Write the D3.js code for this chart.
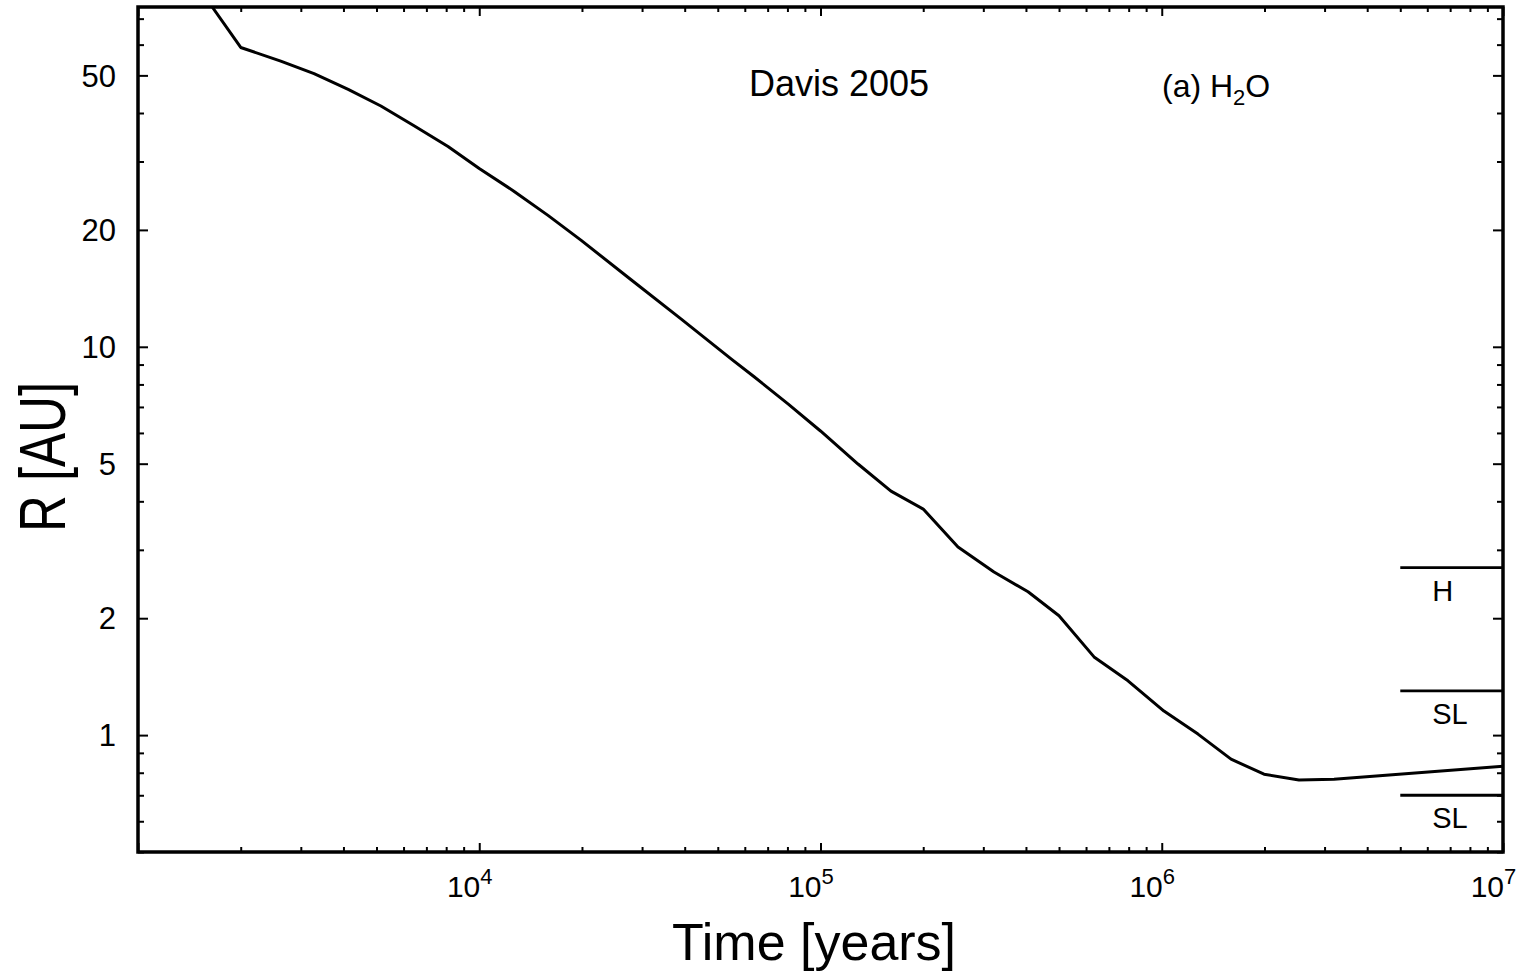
<!DOCTYPE html>
<html>
<head>
<meta charset="utf-8">
<script src="https://cdn.jsdelivr.net/npm/d3@7"></script>
<style>
  body { margin: 0; background: #fff; }
  svg { display: block; }
  text { font-family: "Liberation Sans", Arial, Helvetica, sans-serif; fill: #000; }
</style>
</head>
<body>
<svg id="chart" width="1532" height="973"></svg>
<script>
// ---- data ----
const timeYears = [1650, 2000, 2620, 3280, 4130, 5150, 6440, 8100, 10000, 12600, 15900, 19900,
  27800, 39000, 54700, 63900, 80300, 100000, 128800, 160900, 200000, 252900, 322400, 405700,
  500000, 633200, 796300, 1015000, 1277000, 1596000, 1994000, 2524000, 3197000, 10000000];
const radiusAU = [75, 59, 54.4, 50.5, 46.0, 41.7, 37.1, 32.8, 28.8, 25.2, 21.8, 18.8,
  14.9, 11.8, 9.31, 8.37, 7.13, 6.07, 4.99, 4.25, 3.82, 3.05, 2.63, 2.34,
  2.03, 1.59, 1.38, 1.153, 1.006, 0.867, 0.793, 0.766, 0.770, 0.832];

const refLabels = ["H", "SL", "SL"];
const refValues = [2.7, 1.3, 0.7];
const refStart = 5e6;
const refEnd = 1e7;

const xMajorTicks = [1e3, 1e4, 1e5, 1e6, 1e7];
const xTickLabels = [1e4, 1e5, 1e6, 1e7];
const xTickExponents = ["4", "5", "6", "7"];
const yMajorTicks = [1, 2, 5, 10, 20, 50];
const yTickLabels = ["1", "2", "5", "10", "20", "50"];
const mantissas = [1, 2, 3, 4, 5, 6, 7, 8, 9];

// ---- layout ----
const svg = d3.select("#chart");
const L = 138, R = 1503, T = 7, B = 852;
const x = d3.scaleLog().domain([1e3, 1e7]).range([L, R]);
const y = d3.scaleLog().domain([0.5, 75]).range([B, T]);

const xMinor = [];
[1e3, 1e4, 1e5, 1e6].forEach(d => mantissas.forEach(m => { if (m > 1) xMinor.push(d * m); }));
const yMinor = [];
[0.1, 1, 10].forEach(d => mantissas.forEach(m => {
  const v = +(d * m).toPrecision(3);
  if (v >= 0.5 && v <= 75 && !yMajorTicks.includes(v)) yMinor.push(v);
}));

function addAxis(gen, tr) {
  const g = svg.append("g").attr("transform", tr).call(gen);
  g.select(".domain").remove();
  g.selectAll("line").attr("stroke", "#000").attr("stroke-width", 2);
  g.selectAll("text").remove();
}
addAxis(d3.axisBottom(x).tickValues(xMajorTicks).tickSize(-9).tickFormat(""), `translate(0,${B})`);
addAxis(d3.axisBottom(x).tickValues(xMinor).tickSize(-5).tickFormat(""), `translate(0,${B})`);
addAxis(d3.axisTop(x).tickValues(xMajorTicks).tickSize(-9).tickFormat(""), `translate(0,${T})`);
addAxis(d3.axisTop(x).tickValues(xMinor).tickSize(-5).tickFormat(""), `translate(0,${T})`);
addAxis(d3.axisLeft(y).tickValues(yMajorTicks).tickSize(-10).tickFormat(""), `translate(${L},0)`);
addAxis(d3.axisLeft(y).tickValues(yMinor).tickSize(-6).tickFormat(""), `translate(${L},0)`);
addAxis(d3.axisRight(y).tickValues(yMajorTicks).tickSize(-10).tickFormat(""), `translate(${R},0)`);
addAxis(d3.axisRight(y).tickValues(yMinor).tickSize(-6).tickFormat(""), `translate(${R},0)`);

// frame
svg.append("rect").attr("x", L).attr("y", T).attr("width", R - L).attr("height", B - T)
  .attr("fill", "none").attr("stroke", "#000").attr("stroke-width", 3.5);

// clip
svg.append("clipPath").attr("id", "clip").append("rect")
  .attr("x", L).attr("y", T).attr("width", R - L).attr("height", B - T);

// curve
const line = d3.line().x(d => x(d[0])).y(d => y(d[1]));
svg.append("path")
  .datum(timeYears.map((t, i) => [t, radiusAU[i]]))
  .attr("d", line)
  .attr("clip-path", "url(#clip)")
  .attr("fill", "none").attr("stroke", "#000").attr("stroke-width", 3)
  .attr("stroke-linejoin", "round");

// reference lines
refValues.forEach((v, i) => {
  svg.append("line").attr("x1", x(refStart)).attr("x2", x(refEnd))
    .attr("y1", y(v)).attr("y2", y(v))
    .attr("stroke", "#000").attr("stroke-width", 2.8);
  svg.append("text").attr("x", x(6.2e6)).attr("y", y(v) + 33)
    .attr("font-size", 29).text(refLabels[i]);
});

// y tick labels
yMajorTicks.forEach((v, i) => {
  svg.append("text").attr("x", 116).attr("y", y(v)).attr("dy", "0.36em")
    .attr("text-anchor", "end").attr("font-size", 31).text(yTickLabels[i]);
});

// x tick labels
xTickLabels.forEach((v, i) => {
  svg.append("text").attr("x", x(v) + 1).attr("y", 897)
    .attr("text-anchor", "end").attr("font-size", 30).text("10");
  svg.append("text").attr("x", x(v) + 1).attr("y", 884)
    .attr("text-anchor", "start").attr("font-size", 22).text(xTickExponents[i]);
});

// axis titles
svg.append("text").attr("x", 814).attr("y", 960).attr("text-anchor", "middle")
  .attr("font-size", 52).text("Time [years]");
svg.append("text").attr("transform", "translate(65,457) rotate(-90) scale(1,1.28)")
  .attr("text-anchor", "middle").attr("font-size", 51).text("R [AU]");

// annotations
svg.append("text").attr("x", 749).attr("y", 96).attr("font-size", 36).text("Davis 2005");
const ann = svg.append("text").attr("x", 1162).attr("y", 97).attr("font-size", 32).attr("fill", "#111");
ann.append("tspan").text("(a) H");
ann.append("tspan").attr("font-size", 22).attr("dy", 8).text("2");
ann.append("tspan").attr("dy", -8).text("O");
</script>
</body>
</html>
